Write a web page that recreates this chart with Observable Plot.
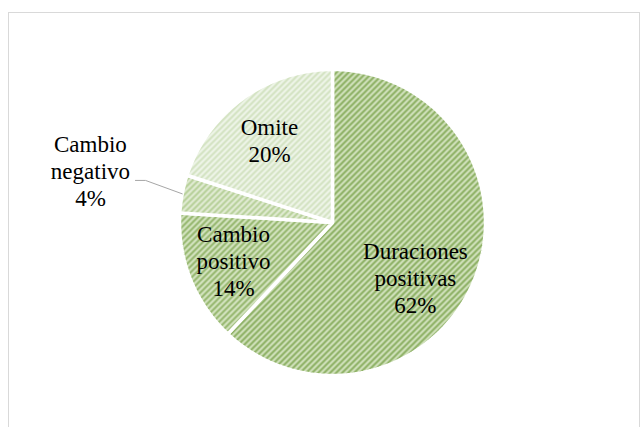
<!DOCTYPE html>
<html>
<head>
<meta charset="utf-8">
<script src="https://cdn.jsdelivr.net/npm/d3@7"></script>
<script src="https://cdn.jsdelivr.net/npm/@observablehq/plot@0.6"></script>
<style>
  html, body { margin: 0; padding: 0; background: #fff; }
  #wrap { position: relative; width: 642px; height: 427px; overflow: hidden; }
  #wrap svg { position: absolute; left: 0; top: 0; }
  #wrap svg text, #wrap svg tspan { font-family: "Liberation Serif", "Tinos", "Times New Roman", Times, "DejaVu Serif", serif !important; }
  #border { position: absolute; left: 8px; top: 12px; width: 632px; height: 430px; border: 1px solid #d9d9d9; box-sizing: border-box; pointer-events: none; }
</style>
</head>
<body>
<div id="wrap"><div id="border"></div></div>
<script>
// Data
const categories = ["Duraciones positivas", "Cambio positivo", "Cambio negativo", "Omite"];
const values = [62, 14, 4, 20];
const labelLines = [["Duraciones", "positivas"], ["Cambio", "positivo"], ["Cambio", "negativo"], ["Omite"]];

// Styling (kept out of data)
const patterns = [
  {id: "p0", bg: "#d3e3bf", fg: "#8aae60"},
  {id: "p1", bg: "#d6e5c3", fg: "#93b56b"},
  {id: "p2", bg: "#e2ecd5", fg: "#b5cf97"},
  {id: "p3", bg: "#eff5e9", fg: "#d2e2c0"}
];
// label anchor offsets from pie centre, in units of radius
const labelPos = [[0.542, -0.359], [-0.647, -0.248], [-1.582, 0.340], [-0.412, 0.542]];

const W = 642, H = 427, CX = 332, CY = 222, R = 153;

const arcs = d3.pie().sort(null).value(d => d)(values);
const slicePts = [];
arcs.forEach((a, i) => {
  slicePts.push({x: 0, y: 0, k: i});
  const steps = Math.max(2, Math.ceil((a.endAngle - a.startAngle) / (Math.PI / 180)));
  for (let s = 0; s <= steps; s++) {
    const t = a.startAngle + (a.endAngle - a.startAngle) * s / steps;
    slicePts.push({x: Math.sin(t), y: Math.cos(t), k: i});
  }
});

const total = d3.sum(values);
const labels = categories.map((c, i) => ({
  text: [...labelLines[i], Math.round(values[i] / total * 100) + "%"].join("\n"),
  x: labelPos[i][0], y: labelPos[i][1]
}));

// leader line for the small slice
const small = arcs[2];
const mid = (small.startAngle + small.endAngle) / 2;
const leader = [
  {x: Math.sin(mid) * 1.0, y: Math.cos(mid) * 1.0},
  {x: -1.222, y: 0.275},
  {x: -1.288, y: 0.275}
];

const plot = Plot.plot({
  width: W, height: H,
  margin: 0,
  style: {fontFamily: "'Liberation Serif', serif"},
  x: {domain: [-CX / R, (W - CX) / R], axis: null},
  y: {domain: [-(H - CY) / R, CY / R], axis: null},
  marks: [
    ...arcs.map((a, i) => Plot.line(slicePts.filter(p => p.k === i), {
      x: "x", y: "y", curve: "linear-closed",
      fill: `url(#${patterns[i].id})`, stroke: "white", strokeWidth: 3.5, strokeLinejoin: "miter"
    })),
    Plot.line(leader, {x: "x", y: "y", stroke: "#a6a6a6", strokeWidth: 1}),
    Plot.text(labels, {
      x: "x", y: "y", text: "text",
      fontSize: 23,
      fill: "#000", lineHeight: 1.17, textAnchor: "middle"
    })
  ]
});

// pattern defs
const ns = "http://www.w3.org/2000/svg";
const defs = document.createElementNS(ns, "defs");
patterns.forEach(p => {
  const pat = document.createElementNS(ns, "pattern");
  pat.setAttribute("id", p.id);
  pat.setAttribute("patternUnits", "userSpaceOnUse");
  pat.setAttribute("width", "6");
  pat.setAttribute("height", "6");
  const r = document.createElementNS(ns, "rect");
  r.setAttribute("width", "6"); r.setAttribute("height", "6"); r.setAttribute("fill", p.bg);
  pat.appendChild(r);
  const path = document.createElementNS(ns, "path");
  path.setAttribute("d", "M-1,7 L7,-1 M-4,4 L4,-4 M2,10 L10,2");
  path.setAttribute("stroke", p.fg);
  path.setAttribute("stroke-width", "2");
  pat.appendChild(path);
  defs.appendChild(pat);
});
plot.insertBefore(defs, plot.firstChild);

document.getElementById("wrap").insertBefore(plot, document.getElementById("border"));
</script>
</body>
</html>
